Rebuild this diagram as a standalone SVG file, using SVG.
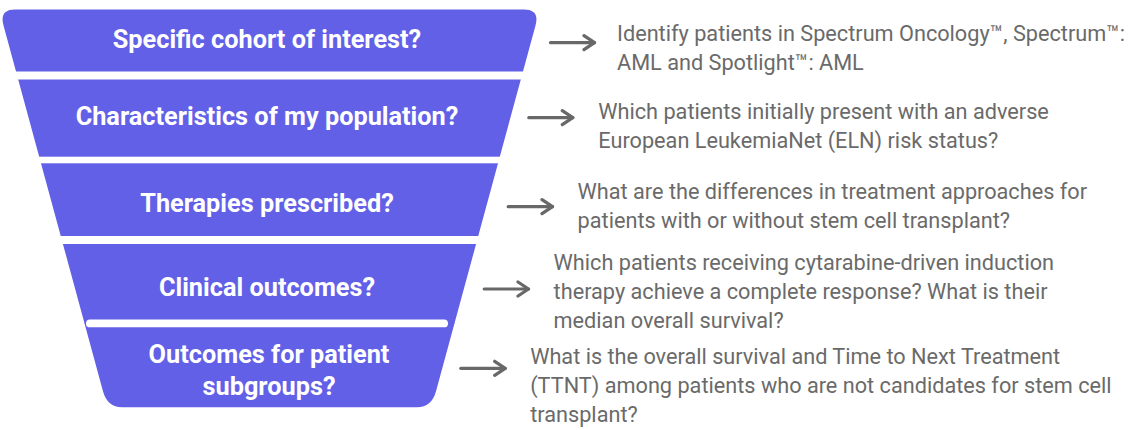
<svg xmlns="http://www.w3.org/2000/svg" width="1130" height="430" viewBox="0 0 1130 430">
<style>
.band{fill:#6360e8}
.lbl{font-family:Roboto,"Liberation Sans",sans-serif;font-weight:700;font-size:25.3px;fill:#ffffff;text-anchor:middle}
.desc{font-family:Roboto,"Liberation Sans",sans-serif;font-size:21.7px;fill:#6a6a6a}
.arrow{stroke:#686868;stroke-width:3.2;fill:none;stroke-linecap:round}
</style>
<defs>
<clipPath id="funnel">
<path d="M3.5,25.5 Q-0.9,9.5 15,9.5 L524,9.5 Q539.9,9.5 535.5,25.5 L436.1,391 Q431.7,407.3 417,407.3 L122,407.3 Q107.3,407.3 102.9,391 Z"/>
</clipPath>
<marker id="head" viewBox="-13 -10 15 20" markerWidth="15" markerHeight="20" refX="0" refY="0" markerUnits="userSpaceOnUse" orient="auto">
<path d="M-10.5,-7 L0,0 L-10.5,7" fill="none" stroke="#686868" stroke-width="3.2" stroke-linecap="round" stroke-linejoin="round"/>
</marker>
</defs>
<rect width="1130" height="430" fill="#ffffff"/>
<g id="node-1">
<rect class="band" x="-5" y="0" width="550" height="71.5" clip-path="url(#funnel)"/>
<text class="lbl" x="267" y="47.7">Specific cohort of interest?</text>
</g>
<g id="node-2">
<rect class="band" x="-5" y="79.5" width="550" height="77.2" clip-path="url(#funnel)"/>
<text class="lbl" x="267" y="125">Characteristics of my population?</text>
</g>
<g id="node-3">
<rect class="band" x="-5" y="163.3" width="550" height="72.7" clip-path="url(#funnel)"/>
<text class="lbl" x="267" y="211.7">Therapies prescribed?</text>
</g>
<g id="node-4">
<rect class="band" x="-5" y="244" width="550" height="80" clip-path="url(#funnel)"/>
<text class="lbl" x="267" y="296">Clinical outcomes?</text>
</g>
<g id="node-5">
<rect class="band" x="-5" y="323.5" width="550" height="90" clip-path="url(#funnel)"/>
<text class="lbl" x="269" y="363.3">Outcomes for patient</text>
<text class="lbl" x="269" y="395">subgroups?</text>
</g>
<g id="separator">
<rect x="86" y="319.5" width="362" height="7.8" rx="3.9" fill="#ffffff"/>
</g>
<g id="connectors">
<line class="arrow" x1="550.5" y1="42.7" x2="594.5" y2="42.7" marker-end="url(#head)"/>
<line class="arrow" x1="528.8" y1="117.7" x2="572.8" y2="117.7" marker-end="url(#head)"/>
<line class="arrow" x1="508.2" y1="206.7" x2="552.5" y2="206.7" marker-end="url(#head)"/>
<line class="arrow" x1="484.2" y1="289" x2="528.5" y2="289" marker-end="url(#head)"/>
<line class="arrow" x1="460.8" y1="368.3" x2="505.2" y2="368.3" marker-end="url(#head)"/>
</g>
<g id="desc-1">
<text class="desc" x="617" y="41">Identify patients in Spectrum Oncology™, Spectrum™:</text>
<text class="desc" x="617" y="70">AML and Spotlight™: AML</text>
</g>
<g id="desc-2">
<text class="desc" x="598.3" y="118.5">Which patients initially present with an adverse</text>
<text class="desc" x="598.3" y="147.5">European LeukemiaNet (ELN) risk status?</text>
</g>
<g id="desc-3">
<text class="desc" x="577.6" y="199">What are the differences in treatment approaches for</text>
<text class="desc" x="577.6" y="228">patients with or without stem cell transplant?</text>
</g>
<g id="desc-4">
<text class="desc" x="553.6" y="269.5">Which patients receiving cytarabine-driven induction</text>
<text class="desc" x="553.6" y="298.5">therapy achieve a complete response? What is their</text>
<text class="desc" x="553.6" y="327.5">median overall survival?</text>
</g>
<g id="desc-5">
<text class="desc" x="530.2" y="363.5">What is the overall survival and Time to Next Treatment</text>
<text class="desc" x="530.2" y="392.5">(TTNT) among patients who are not candidates for stem cell</text>
<text class="desc" x="530.2" y="421.5">transplant?</text>
</g>
</svg>
